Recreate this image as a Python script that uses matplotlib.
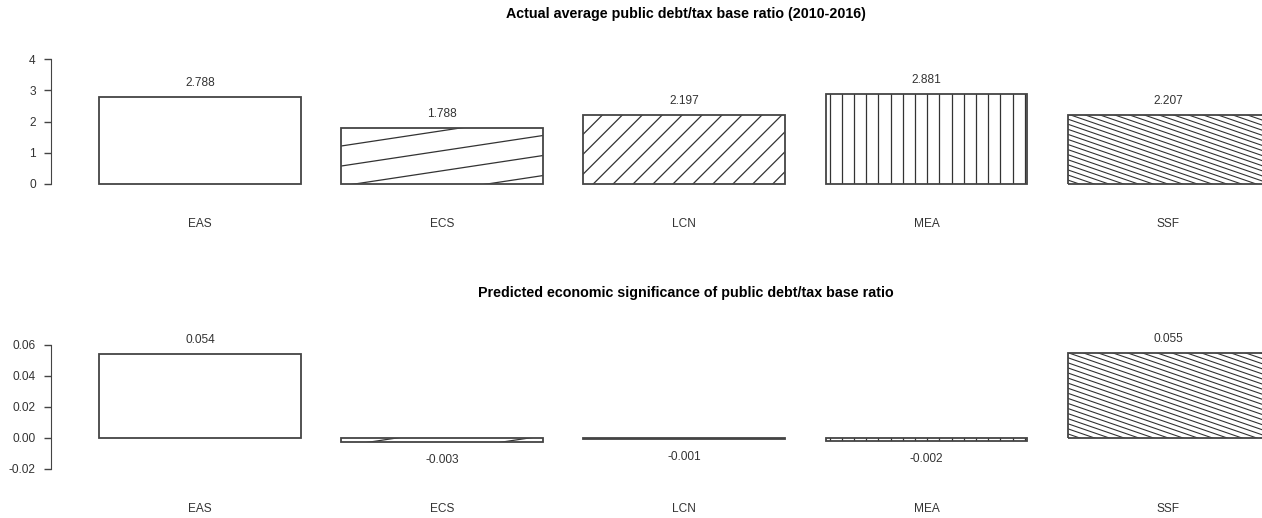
import matplotlib
matplotlib.use("Agg")
import matplotlib.pyplot as plt
import numpy as np
from matplotlib.collections import LineCollection
from matplotlib.transforms import IdentityTransform

plt.rcParams['font.family'] = ['Liberation Sans', 'DejaVu Sans']

regions = ['EAS', 'ECS', 'LCN', 'MEA', 'SSF']
debt_ratio = [2.788, 1.788, 2.197, 2.881, 2.207]
significance = [0.054, -0.003, -0.001, -0.002, 0.055]

# hatch per bar: (angle in degrees, spacing between lines in pixels); None = plain
hatches = [None, (8.6, 19.8), (45, 14.1), (90, 12.2), (-19, 4.8)]

W, H = 1262, 518
fig = plt.figure(figsize=(W / 100, H / 100), dpi=100)

ink = '#333333'
edge = '#444444'

# bar centres like R's barplot (width 1, space 0.2)
xpos = 0.7 + 1.2 * np.arange(len(regions))
px_per_unit = 201.7
x0, x1 = -0.04, 6.44


def make_axes(top_px, bottom_px):
    left_px = 51
    width_px = (x1 - x0) * px_per_unit
    return fig.add_axes([left_px / W, 1 - bottom_px / H,
                         width_px / W, (bottom_px - top_px) / H])


def hatch_bar(ax, bar, angle, spacing):
    bb = bar.get_window_extent()
    th = np.deg2rad(angle)
    d = np.array([np.cos(th), np.sin(th)])   # line direction
    n = np.array([-d[1], d[0]])              # normal
    corners = np.array([[bb.x0, bb.y0], [bb.x1, bb.y0],
                        [bb.x0, bb.y1], [bb.x1, bb.y1]])
    proj = corners @ n
    L = np.hypot(bb.width, bb.height) + 10
    c = corners.mean(axis=0)
    segs = []
    for k in np.arange(np.floor(proj.min() / spacing), np.ceil(proj.max() / spacing) + 1):
        off = k * spacing - c @ n
        p = c + off * n
        segs.append([p - L * d, p + L * d])
    lw = 0.8 if spacing < 8 else 0.9
    lc = LineCollection(segs, colors=ink, linewidths=lw,
                        transform=IdentityTransform(), zorder=2.5)
    ax.add_collection(lc, autolim=False)
    lc.set_clip_path(bar)


def panel(ax, values, ylim, ticks, ticklabels, title, title_y):
    ax.set_xlim(x0, x1)
    ax.set_ylim(*ylim)
    bars = ax.bar(xpos, values, width=1.0, color='white',
                  edgecolor=edge, linewidth=1.3, zorder=2)
    for s in ['top', 'right', 'bottom']:
        ax.spines[s].set_visible(False)
    ax.spines['left'].set_bounds(ticks[0], ticks[-1])
    ax.spines['left'].set_color(edge)
    ax.set_yticks(ticks)
    ax.set_yticklabels(ticklabels)
    ax.tick_params(axis='y', length=5, width=1, color=edge, pad=6,
                   labelsize=8.6, labelcolor=ink)
    ax.set_xticks(xpos)
    ax.set_xticklabels(regions)
    ax.tick_params(axis='x', length=0, pad=21, labelsize=8.6, labelcolor=ink)
    for b, v in zip(bars, values):
        if v >= 0:
            ax.annotate(f'{v:.3f}', (b.get_x() + 0.5, v), xytext=(0, 10),
                        textcoords='offset points', ha='center', va='center',
                        fontsize=8.6, color=ink)
        else:
            ax.annotate(f'{v:.3f}', (b.get_x() + 0.5, v), xytext=(0, -13),
                        textcoords='offset points', ha='center', va='center',
                        fontsize=8.6, color=ink)
    fig.canvas.draw()
    for b, h in zip(bars, hatches):
        if h is not None:
            hatch_bar(ax, b, *h)
    # redraw the outlines on top of the hatching
    for b in bars:
        b.set_zorder(3)
        b.set_facecolor('none')
    fig.text(686 / W, 1 - title_y / H, title, ha='center', va='center',
             fontsize=10.3, fontweight='bold', color='black')


ax1 = make_axes(54, 189)
panel(ax1, debt_ratio, (-0.16, 4.16), [0, 1, 2, 3, 4],
      ['0', '1', '2', '3', '4'],
      'Actual average public debt/tax base ratio (2010-2016)', 14)

ax2 = make_axes(340, 473.5)
panel(ax2, significance, (-0.0232, 0.0632),
      [-0.02, 0.0, 0.02, 0.04, 0.06],
      ['-0.02', '0.00', '0.02', '0.04', '0.06'],
      'Predicted economic significance of public debt/tax base ratio', 293)

fig.savefig('out.png', dpi=100)
